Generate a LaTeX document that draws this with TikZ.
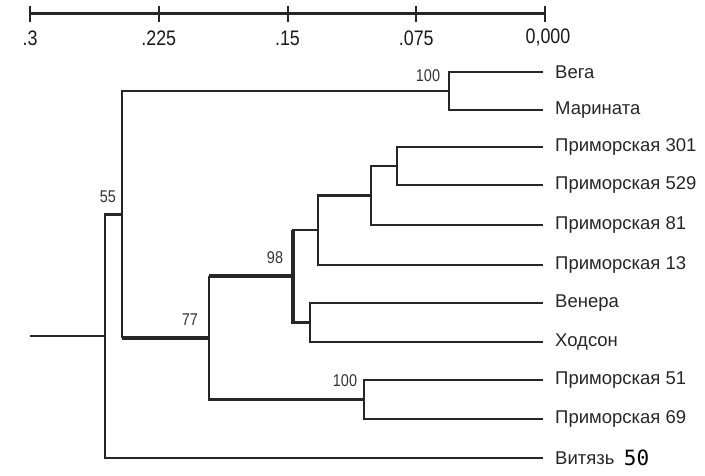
\documentclass[tikz,border=0pt]{standalone}
\usepackage{fontspec}
\setmainfont{Liberation Sans}
\newfontfamily\narrowfont[FakeStretch=0.85]{Liberation Sans}
\newfontfamily\digifont{DejaVu Sans Mono}
\begin{document}
\begin{tikzpicture}[x=1pt,y=-1pt,
  br/.style={line width=2.5pt,black!85},
  thk/.style={line width=3.2pt,black!85},
  leaf/.style={anchor=west,inner sep=0pt,font=\fontsize{18.5}{18.5}\selectfont,text=black!85},
  boot/.style={inner sep=0pt,font=\narrowfont\fontsize{17}{17}\selectfont,text=black!80},
  axlab/.style={inner sep=0pt,font=\narrowfont\fontsize{21}{21}\selectfont,text=black!90}]
\useasboundingbox (0,0) rectangle (705,476);
% scale axis
\coordinate (a0) at (30,14);
\coordinate (a1) at (158.75,14);
\coordinate (a2) at (287.5,14);
\coordinate (a3) at (416.25,14);
\coordinate (a4) at (545,14);
\draw[line width=3pt,black!85] (a0) -- (a4);
\foreach \i in {0,...,4}{\draw[line width=2pt,black!85] ([yshift=-8pt]a\i) -- ([yshift=8pt]a\i);}
\node[axlab] (t0) at (30,38) {.3};
\node[axlab] (t1) at (158.75,38) {.225};
\node[axlab] (t2) at (287.5,38) {.15};
\node[axlab] (t3) at (416.25,38) {.075};
\node[axlab] (t4) at (548,38) {0,000};
% leaves
\coordinate (l1) at (543,72);
\coordinate (l2) at (543,110);
\coordinate (l3) at (543,147);
\coordinate (l4) at (543,185);
\coordinate (l5) at (543,225);
\coordinate (l6) at (543,265);
\coordinate (l7) at (543,303);
\coordinate (l8) at (543,342);
\coordinate (l9) at (543,380);
\coordinate (l10) at (543,419);
\coordinate (l11) at (543,458);
\node[leaf] (L1) at (555,72) {Вега};
\node[leaf] (L2) at (555,110) {Марината};
\node[leaf] (L3) at (555,147) {Приморская 301};
\node[leaf] (L4) at (555,185) {Приморская 529};
\node[leaf] (L5) at (555,225) {Приморская 81};
\node[leaf] (L6) at (555,265) {Приморская 13};
\node[leaf] (L7) at (555,303) {Венера};
\node[leaf] (L8) at (555,342) {Ходсон};
\node[leaf] (L9) at (555,380) {Приморская 51};
\node[leaf] (L10) at (555,419) {Приморская 69};
\node[leaf] (L11) at (555,458) {Витязь};
\node[anchor=west,inner sep=0pt,font=\digifont\fontsize{21}{21}\selectfont] (n50) at (L11.east) [xshift=9pt] {50};
% internal nodes
\coordinate (nVM) at (449,91);
\coordinate (nA) at (397,166);
\coordinate (nB) at (371,195.5);
\coordinate (nC) at (318,230);
\coordinate (nVX) at (310,322.5);
\coordinate (n98) at (293,276);
\coordinate (nP) at (364,399.5);
\coordinate (n77) at (209,338);
\coordinate (nT) at (122,214.5);
\coordinate (n55) at (105,336);
\coordinate (root) at (30,336);
% branches
\draw[br] (l1) -| (nVM) |- (l2);
\draw[br] (l3) -| (nA) |- (l4);
\draw[br] (nA) -| (nB) |- (l5);
\draw[br] (nB) -| (nC) |- (l6);
\draw[br] (l7) -| (nVX) |- (l8);
\draw[br] (nC) -| (n98);
\draw[thk] (n98) |- (nVX);
\draw[thk] (n98) -- (n98|-nC);
\draw[br] (l9) -| (nP) |- (l10);
\draw[thk] (n98) -- (n98-|n77);
\draw[br] (n98-|n77) |- (nP);
\draw[br] (nVM) -| (nT);
\draw[thk] (n77) -- (n77-|nT);
\draw[br] (n77-|nT) |- (nVM);
\draw[br] (nT) -| (n55) |- (l11);
\draw[br] (root) -- (n55);
% bootstrap values
\node[boot] (b1) at (428,76) {100};
\node[boot] (b2) at (345,381) {100};
\node[boot] (b3) at (108,197) {55};
\node[boot] (b4) at (275,258) {98};
\node[boot] (b5) at (190,320) {77};
\end{tikzpicture}
\end{document}
